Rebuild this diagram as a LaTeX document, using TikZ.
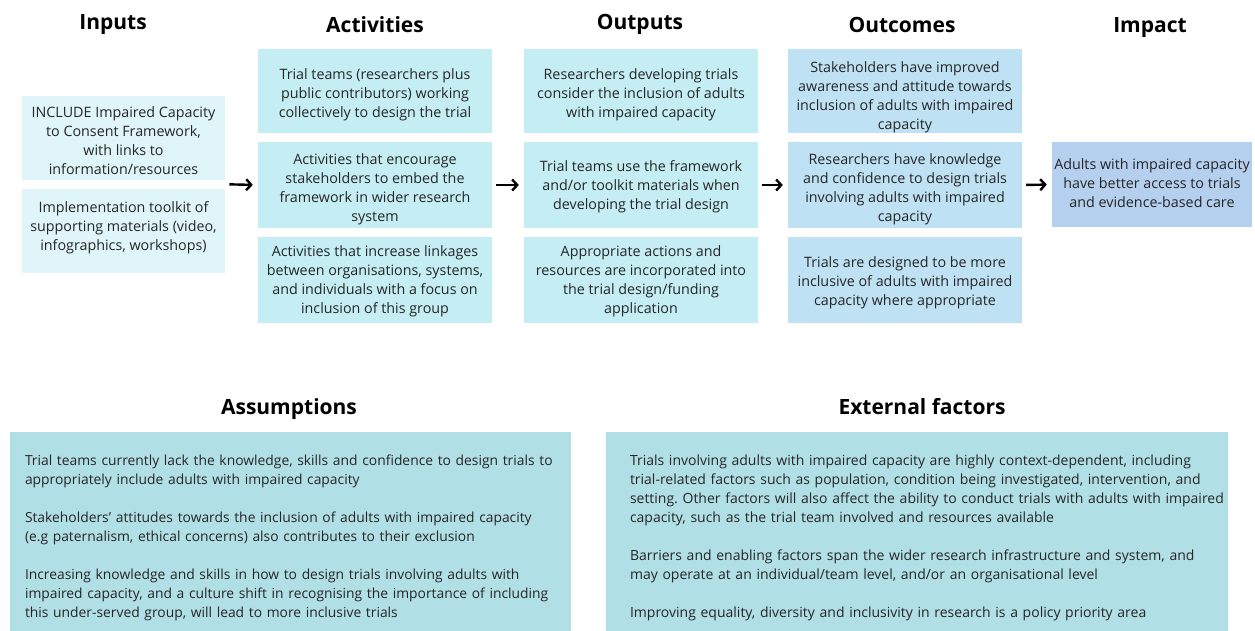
\documentclass[tikz,border=0pt]{standalone}
\usepackage{fontspec}
\setmainfont{Open Sans}
\usetikzlibrary{arrows.meta,fit}

\definecolor{inputfill}{HTML}{DFF5F9}
\definecolor{actfill}{HTML}{C4EEF3}
\definecolor{outcfill}{HTML}{BEE2F4}
\definecolor{impfill}{HTML}{B5CFEE}
\definecolor{bottomfill}{HTML}{B1DFE6}
\definecolor{textcol}{HTML}{262626}

% centred block of lines, lowered by the optional amount but keeping its size
\newcommand{\celltext}[2][4.5pt]{\raisebox{-#1}[\height][\depth]{\begin{tabular}{@{}c@{}}#2\end{tabular}}}

\begin{document}
\frenchspacing
\begin{tikzpicture}[x=1pt,y=-1pt,
  box/.style={rectangle, draw=none, align=center, inner sep=0pt,
    font=\fontsize{14.3}{19}\selectfont, text=textcol},
  colbox/.style={box, minimum width=234pt, minimum height=86pt},
  inbox/.style={box, fill=inputfill, minimum width=203pt, minimum height=84pt},
  actbox/.style={colbox, fill=actfill},
  outcbox/.style={colbox, fill=outcfill},
  impbox/.style={box, fill=impfill, minimum width=200pt, minimum height=85pt},
  notebox/.style={box, fill=bottomfill, align=left, minimum height=212pt,
    font=\fontsize{14}{19}\selectfont},
  heading/.style={font=\fontsize{21}{24}\bfseries\selectfont, text=black,
    inner sep=0pt, anchor=base},
  flow/.style={line width=2.4pt, -{Straight Barb[length=5pt,width=11pt]},
    shorten <=4pt, shorten >=5pt}
]
\useasboundingbox (0,0) rectangle (1255,630);

% column headings
\node[heading] (hin)  at (113,29)  {Inputs};
\node[heading] (hact) at (375,32)  {Activities};
\node[heading] (hout) at (640,29)  {Outputs};
\node[heading] (hoc)  at (902,32)  {Outcomes};
\node[heading] (himp) at (1150,32) {Impact};

% inputs
\node[inbox] (in1) at (123.5,138) {\celltext[4pt]{INCLUDE Impaired Capacity\\to Consent Framework,\\with links to\\information/resources}};
\node[inbox] (in2) at (123.5,230.5) {\celltext[-3pt]{Implementation toolkit of\\supporting materials (video,\\infographics, workshops)}};
\node[fit=(in1)(in2), inner sep=0pt] (inputs) {};

% activities
\node[actbox, minimum height=84pt] (act1) at (375,91) {\celltext[3.5pt]{Trial teams (researchers plus\\public contributors) working\\collectively to design the trial}};
\node[actbox] (act2) at (375,185) {\celltext{Activities that encourage\\stakeholders to embed the\\framework in wider research\\system}};
\node[actbox] (act3) at (375,280) {\celltext[1.5pt]{Activities that increase linkages\\between organisations, systems,\\and individuals with a focus on\\inclusion of this group}};

% outputs
\node[actbox, minimum height=84pt] (out1) at (641,91) {\celltext[3.5pt]{Researchers developing trials\\consider the inclusion of adults\\with impaired capacity}};
\node[actbox] (out2) at (641,185) {\celltext[2pt]{Trial teams use the framework\\and/or toolkit materials when\\developing the trial design}};
\node[actbox] (out3) at (641,280) {\celltext[1.5pt]{Appropriate actions and\\resources are incorporated into\\the trial design/funding\\application}};

% outcomes
\node[outcbox, minimum height=84pt] (oc1) at (905,91) {\celltext[6.5pt]{Stakeholders have improved\\awareness and attitude towards\\inclusion of adults with impaired\\capacity}};
\node[outcbox] (oc2) at (905,185) {\celltext{Researchers have knowledge\\and confidence to design trials\\involving adults with impaired\\capacity}};
\node[outcbox] (oc3) at (905,280) {\celltext[3pt]{Trials are designed to be more\\inclusive of adults with impaired\\capacity where appropriate}};

% impact
\node[impbox] (imp) at (1152,184.5) {\celltext[0pt]{Adults with impaired capacity\\have better access to trials\\and evidence-based care}};

% flow arrows
\draw[flow] (inputs.east) -- (act2.west);
\draw[flow] (act2.east) -- (out2.west);
\draw[flow] (out2.east) -- (oc2.west);
\draw[flow] (oc2.east) -- (imp.west);

% assumptions and external factors (boxes run off the lower edge)
\node[heading] (hass) at (289,414) {Assumptions};
\node[heading] (hext) at (922,414) {External factors};

\node[notebox, minimum width=561pt, text width=531pt] (ass) at (290.5,538) {\fontsize{13.85}{19}\selectfont\begin{tabular}{@{}l@{}}Trial teams currently lack the knowledge, skills and confidence to design trials to\\appropriately include adults with impaired capacity\\[19pt]
Stakeholders' attitudes towards the inclusion of adults with impaired capacity\\(e.g paternalism, ethical concerns) also contributes to their exclusion\\[19pt]
Increasing knowledge and skills in how to design trials involving adults with\\impaired capacity, and a culture shift in recognising the importance of including\\this under-served group, will lead to more inclusive trials\end{tabular}};

\node[notebox, minimum width=622pt, text width=598pt] (ext) at (917,538) {\hspace*{12pt}\begin{tabular}{@{}l@{}}Trials involving adults with impaired capacity are highly context-dependent, including\\trial-related factors such as population, condition being investigated, intervention, and\\setting. Other factors will also affect the ability to conduct trials with adults with impaired\\capacity, such as the trial team involved and resources available\\[19pt]
Barriers and enabling factors span the wider research infrastructure and system, and\\may operate at an individual/team level, and/or an organisational level\\[19pt]
Improving equality, diversity and inclusivity in research is a policy priority area\end{tabular}};
\end{tikzpicture}
\end{document}
